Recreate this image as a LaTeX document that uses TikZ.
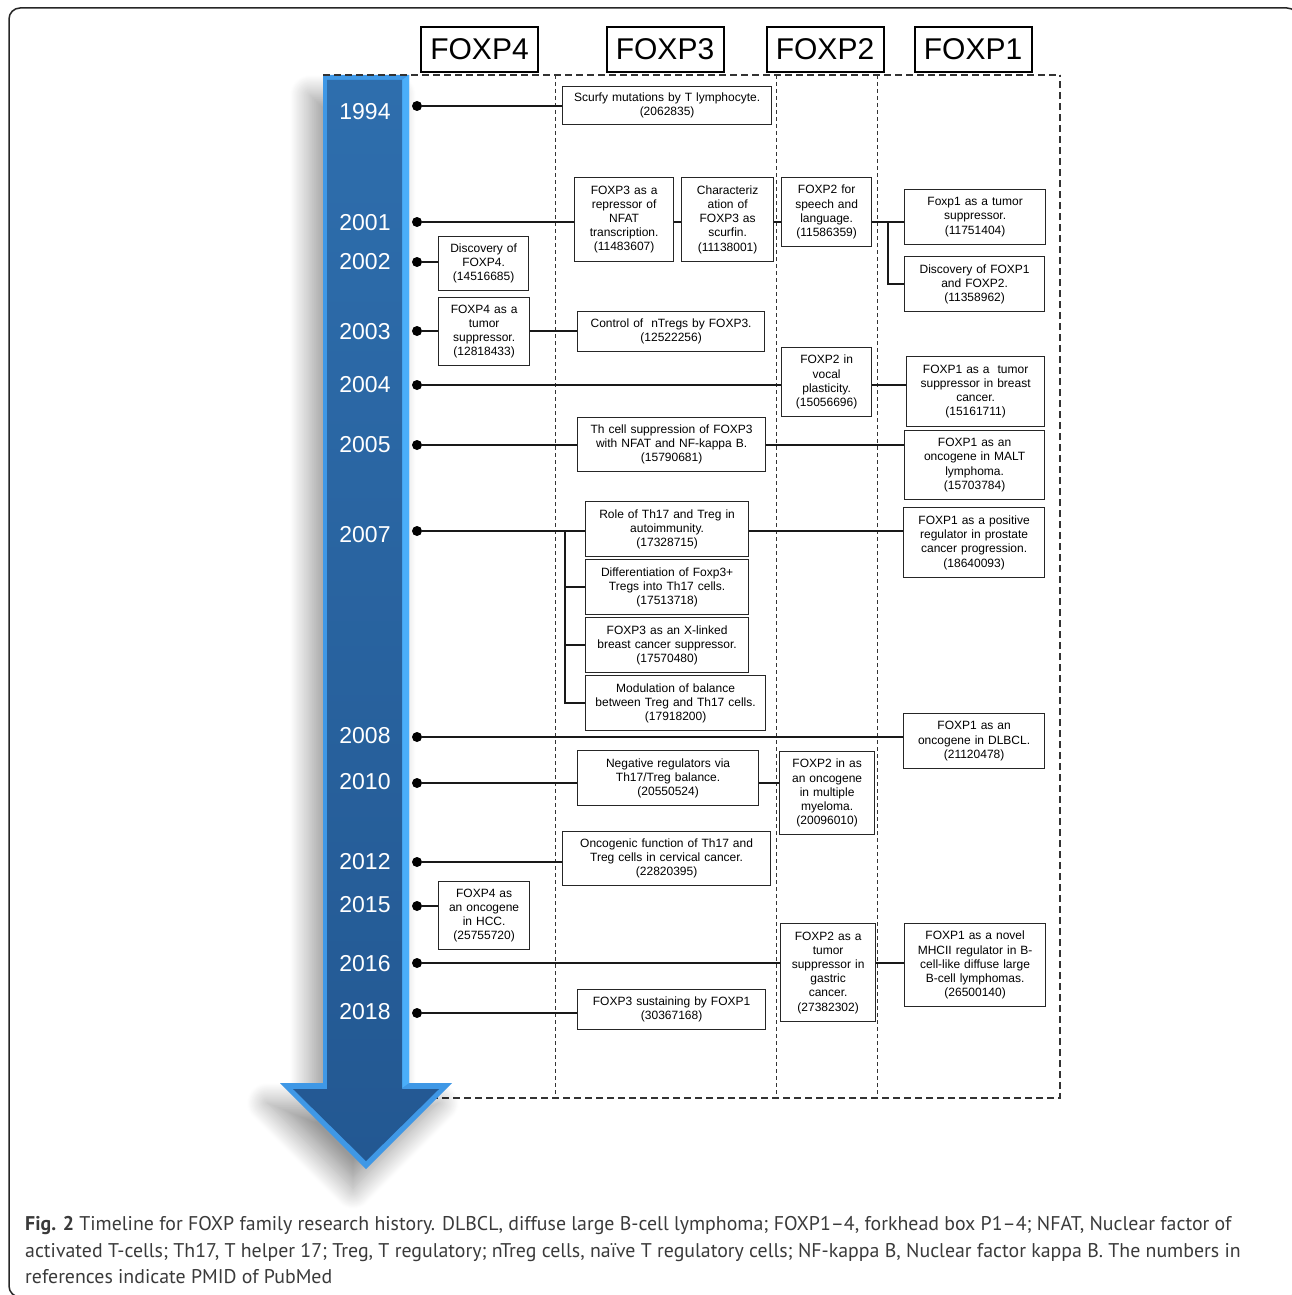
\documentclass[tikz,border=0pt]{standalone}
\usepackage{fontspec}
\setmainfont{Liberation Sans}
\newfontfamily\boxfont{Liberation Sans}
\newfontfamily\capfont{PT Sans}
\usetikzlibrary{shadows.blur}
\definecolor{arrowedge}{HTML}{3F98E6}
\definecolor{arrowedgeR}{HTML}{4AAEFA}
\definecolor{arrowtop}{HTML}{2E6EAD}
\definecolor{arrowbot}{HTML}{235892}
\definecolor{captxt}{HTML}{3A3A3A}
\tikzset{
  ev/.style={draw=black!85, line width=1.2pt, fill=white, inner sep=0pt, align=center, anchor=north west,
    font=\boxfont\fontsize{12pt}{14.2pt}\selectfont},
  hdr/.style={draw=black, line width=2pt, fill=white, minimum width=117pt, minimum height=45pt, inner sep=0pt,
    font=\fontsize{30pt}{32pt}\selectfont},
  yr/.style={text=white, font=\fontsize{23pt}{25pt}\selectfont, inner sep=0pt},
  dot/.style={circle, fill=black, inner sep=0pt, minimum size=10pt},
  conn/.style={line width=1.8pt, black!90},
  outerdash/.style={line width=1.8pt, dash pattern=on 7pt off 4pt, black!80},
  innerdash/.style={line width=1pt, dash pattern=on 4pt off 3pt, black!80},
  captext/.style={text=captxt, inner sep=0pt, anchor=base west, font=\capfont\fontsize{19.85pt}{24pt}\selectfont},
}
\newcommand\evbox[6]{\node[ev, minimum width=#4pt, minimum height=#5pt, text width=#4pt] (#1) at (#2,#3) {#6};}
\newcommand\yeardot[3]{\node[yr] (y#1) at (365,#2) {#1}; \node[dot] (d#1) at (417,#3) {};}
\begin{document}
\begin{tikzpicture}[x=1pt, y=-1pt]
\useasboundingbox (0,0) rectangle (1292,1295);
\begin{scope}
\clip (0,0) rectangle (1292,1295);
\draw[line width=1.5pt, black!85, rounded corners=11pt] (9,8) rectangle (1298,1297);
\end{scope}

% headers
\node[hdr] (h4) at (479.5,49.5) {FOXP4};
\node[hdr] (h3) at (665,49.5) {FOXP3};
\node[hdr] (h2) at (825,49.5) {FOXP2};
\node[hdr] (h1) at (973,49.5) {FOXP1};

% dashed frame and dividers
\draw[outerdash] (409,1098) -- (1060,1098) -- (1060,75);
\draw[innerdash] (555,75) -- (555,1098);
\draw[innerdash] (776,75) -- (776,1098);
\draw[innerdash] (877,75) -- (877,1098);

% arrow
\fill[arrowedge, blur shadow={shadow xshift=-13pt, shadow yshift=-20pt, shadow blur radius=20pt, shadow blur steps=30, shadow opacity=40}]
  (323,75) -- (409,75) -- (409,1083) -- (452,1083) -- (366,1169) -- (280,1083) -- (323,1083) -- cycle;
\fill[arrowedgeR] (402,80) -- (409,75) -- (409,1083) -- (402,1088) -- cycle;
\shade[top color=arrowtop, bottom color=arrowbot]
  (327,80) -- (402,80) -- (402,1089) -- (439,1089) -- (366,1161) -- (293,1089) -- (327,1089) -- cycle;
\draw[outerdash] (323,75) -- (1060,75);

% years and dots
\yeardot{1994}{112}{106}
\yeardot{2001}{223}{222}
\yeardot{2002}{262}{262}
\yeardot{2003}{332}{331}
\yeardot{2004}{385}{385}
\yeardot{2005}{445}{445}
\yeardot{2007}{535}{531}
\yeardot{2008}{736}{737}
\yeardot{2010}{782}{783}
\yeardot{2012}{862}{862}
\yeardot{2015}{905}{906}
\yeardot{2016}{964}{963}
\yeardot{2018}{1012}{1013}

% boxes
\evbox{scurfy}{562}{86}{209}{38}{Scurfy mutations by T lymphocyte.\\(2062835)}
\evbox{rep}{574}{177}{99}{84}{FOXP3 as a\\repressor of\\NFAT\\transcription.\\(11483607)}
\evbox{charz}{681}{177}{92}{84}{Characteriz\\ation of\\FOXP3 as\\scurfin.\\(11138001)}
\evbox{speech}{781}{177}{90}{69}{FOXP2 for\\speech and\\language.\\(11586359)}
\evbox{fonets}{904}{189}{141}{55}{Foxp1 as a tumor\\suppressor.\\(11751404)}
\evbox{discone}{904}{256}{140}{55}{Discovery of FOXP1\\and FOXP2.\\(11358962)}
\evbox{discfour}{438}{236}{90}{54}{Discovery of\\FOXP4.\\(14516685)}
\evbox{ffourts}{438}{297}{91}{68}{FOXP4 as a\\tumor\\suppressor.\\(12818433)}
\evbox{ntreg}{577}{311}{187}{40}{Control of\ \ nTregs by FOXP3.\\(12522256)}
\evbox{vocal}{781}{347}{90}{69}{FOXP2 in\\vocal\\plasticity.\\(15056696)}
\evbox{breast}{906}{356}{138}{70}{FOXP1 as a\ \ tumor\\suppressor in breast\\cancer.\\(15161711)}
\evbox{thcell}{577}{417}{188}{54}{Th cell suppression of FOXP3\\with NFAT and NF-kappa B.\\(15790681)}
\evbox{malt}{904}{430}{140}{69}{FOXP1 as an\\oncogene in MALT\\lymphoma.\\(15703784)}
\evbox{role}{585}{501}{163}{55}{Role of Th17 and Treg in\\autoimmunity.\\(17328715)}
\evbox{prostate}{903}{507}{141}{70}{FOXP1 as a positive\\regulator in prostate\\cancer progression.\\(18640093)}
\evbox{diff}{585}{559}{163}{55}{Differentiation of Foxp3+\\Tregs into Th17 cells.\\(17513718)}
\evbox{xlinked}{585}{617}{163}{55}{FOXP3 as an X-linked\\breast cancer suppressor.\\(17570480)}
\evbox{modul}{585}{675}{180}{55}{Modulation of balance\\between Treg and Th17 cells.\\(17918200)}
\evbox{dlbcl}{903}{713}{141}{55}{FOXP1 as an\\oncogene in DLBCL.\\(21120478)}
\evbox{negreg}{577}{750}{181}{55}{Negative regulators via\\Th17/Treg balance.\\(20550524)}
\evbox{myeloma}{779}{751}{95}{83}{FOXP2 in as\\an oncogene\\in multiple\\myeloma.\\(20096010)}
\evbox{oncog}{562}{831}{208}{54}{Oncogenic function of Th17 and\\Treg cells in cervical cancer.\\(22820395)}
\evbox{hcc}{438}{881}{91}{68}{FOXP4 as\\an oncogene\\in HCC.\\(25755720)}
\evbox{gastric}{780}{923}{95}{98}{FOXP2 as a\\tumor\\suppressor in\\gastric\\cancer.\\(27382302)}
\evbox{novel}{904}{923}{141}{83}{FOXP1 as a novel\\MHCII regulator in B-\\cell-like diffuse large\\B-cell lymphomas.\\(26500140)}
\evbox{sustain}{577}{989}{188}{40}{FOXP3 sustaining by FOXP1\\(30367168)}

% connectors
\draw[conn] (d1994) -- (d1994 -| scurfy.west);
\draw[conn] (d2001) -- (d2001 -| rep.west);
\draw[conn] (rep.east |- d2001) -- (d2001 -| charz.west);
\draw[conn] (charz.east |- d2001) -- (d2001 -| speech.west);
\draw[conn] (speech.east |- d2001) -- (d2001 -| fonets.west);
\coordinate (br2001) at (888,222);
\draw[conn] (br2001) |- (discone.west);
\draw[conn] (d2002) -- (d2002 -| discfour.west);
\draw[conn] (d2003) -- (d2003 -| ffourts.west);
\draw[conn] (ffourts.east |- d2003) -- (d2003 -| ntreg.west);
\draw[conn] (d2004) -- (d2004 -| vocal.west);
\draw[conn] (vocal.east |- d2004) -- (d2004 -| breast.west);
\draw[conn] (d2005) -- (d2005 -| thcell.west);
\draw[conn] (thcell.east |- d2005) -- (d2005 -| malt.west);
\draw[conn] (d2007) -- (d2007 -| role.west);
\draw[conn] (role.east |- d2007) -- (d2007 -| prostate.west);
\coordinate (br2007) at (565,531);
\draw[conn] (br2007) |- (diff.west);
\draw[conn] (br2007) |- (xlinked.west);
\draw[conn] (br2007) |- (modul.west);
\draw[conn] (d2008) -- (d2008 -| dlbcl.west);
\draw[conn] (d2010) -- (d2010 -| negreg.west);
\draw[conn] (negreg.east |- d2010) -- (d2010 -| myeloma.west);
\draw[conn] (d2012) -- (d2012 -| oncog.west);
\draw[conn] (d2015) -- (d2015 -| hcc.west);
\draw[conn] (d2016) -- (d2016 -| gastric.west);
\draw[conn] (gastric.east |- d2016) -- (d2016 -| novel.west);
\draw[conn] (d2018) -- (d2018 -| sustain.west);

% caption
\node[captext] (cap1) at (25,1230) {\textbf{Fig. 2} Timeline for FOXP family research history. DLBCL, diffuse large B-cell lymphoma; FOXP1–4, forkhead box P1–4; NFAT, Nuclear factor of};
\node[captext] (cap2) at (25,1257) {activated T-cells; Th17, T helper 17; Treg, T regulatory; nTreg cells, naïve T regulatory cells; NF-kappa B, Nuclear factor kappa B. The numbers in};
\node[captext] (cap3) at (25,1283) {references indicate PMID of PubMed};
\end{tikzpicture}
\end{document}
